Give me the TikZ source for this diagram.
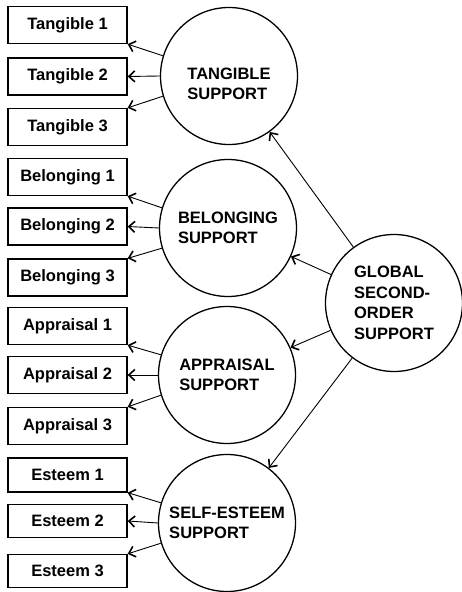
\documentclass[tikz,border=0pt]{standalone}
\usepackage{fontspec}
\setmainfont{Liberation Sans}
\usetikzlibrary{arrows.meta}
\begin{document}
\begin{tikzpicture}[x=1pt,y=1pt,
  font=\bfseries\fontsize{16.5}{20}\selectfont,
  ind/.style={draw,line width=1.3pt,minimum width=119pt,minimum height=37pt,inner sep=0pt},
  fac/.style={draw,circle,line width=1.3pt,minimum size=137pt,inner sep=0pt,align=left},
  arr/.style={line width=0.9pt,-{Straight Barb[length=6pt,width=11pt,line width=1.6pt]}}]
\useasboundingbox (0,0) rectangle (462,592);
% indicator boxes
\node[ind] (t1) at (67.5,567) {Tangible 1};
\node[ind] (t2) at (67.5,515.5) {Tangible 2};
\node[ind] (t3) at (67.5,465) {Tangible 3};
\node[ind] (b1) at (67.5,415) {Belonging 1};
\node[ind] (b2) at (67.5,365.5) {Belonging 2};
\node[ind] (b3) at (67.5,314.5) {Belonging 3};
\node[ind] (a1) at (67.5,266) {Appraisal 1};
\node[ind] (a2) at (67.5,217) {Appraisal 2};
\node[ind] (a3) at (67.5,166) {Appraisal 3};
\node[ind,minimum height=34pt] (e1) at (67.5,117) {Esteem 1};
\node[ind,minimum height=33pt] (e2) at (67.5,71) {Esteem 2};
\node[ind,minimum height=33pt] (e3) at (67.5,21) {Esteem 3};
% factor circles
\node[fac,label={[align=left,yshift=-8pt]center:{TANGIBLE\\SUPPORT}}] (T) at (229,516) {};
\node[fac] (B) at (228,364) {BELONGING\\SUPPORT};
\node[fac] (A) at (227,217) {APPRAISAL\\SUPPORT};
\node[fac] (E) at (227,69) {SELF-ESTEEM\\SUPPORT};
\node[fac,font=\bfseries\fontsize{16.5}{20.5}\selectfont] (G) at (394,289) {GLOBAL\\SECOND-\\ORDER\\SUPPORT};
% factor -> indicator
\foreach \F/\i/\j/\k in {T/t1/t2/t3,B/b1/b2/b3,A/a1/a2/a3,E/e1/e2/e3}{
  \draw[arr] (\F.163) -- (\i.south east);
  \draw[arr] (\F.west) -- (\j.east);
  \draw[arr] (\F.197) -- (\k.north east);
}
% global -> factors
\foreach \F in {T,B,A,E}{
  \draw[arr] (G) -- (\F);
}
\end{tikzpicture}
\end{document}
